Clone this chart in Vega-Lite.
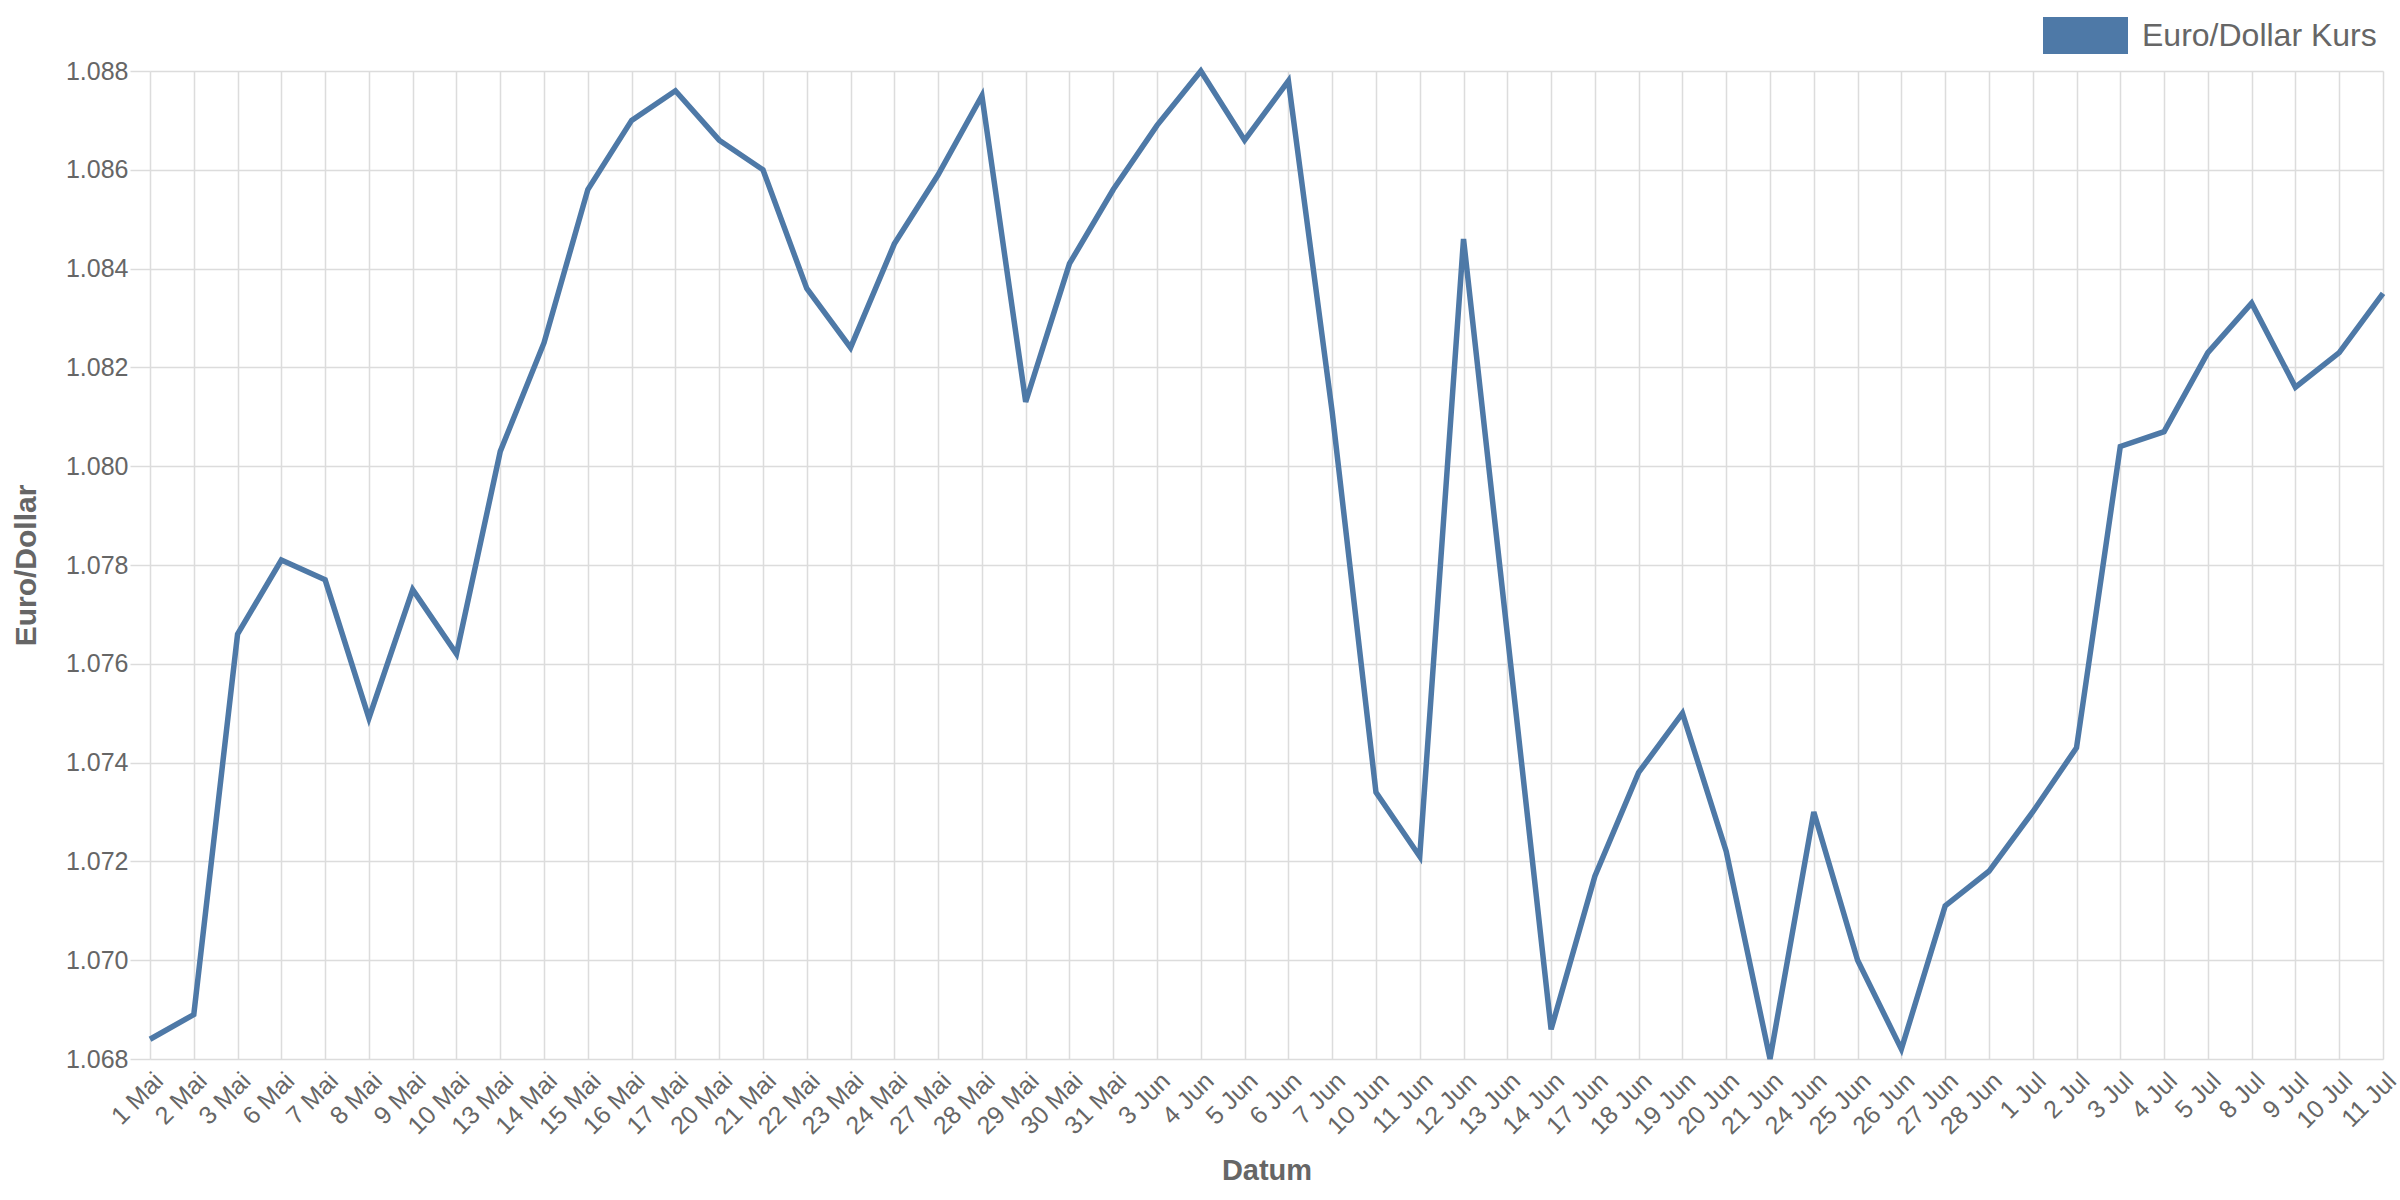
{
  "$schema": "https://vega.github.io/schema/vega-lite/v6.json",
  "width": 2233,
  "height": 988,
  "autosize": {"type": "none"},
  "padding": {"left": 150, "top": 71, "right": 17, "bottom": 141},
  "background": "white",
  "config": {
    "font": "Liberation Sans",
    "view": {"stroke": null},
    "axis": {"gridColor": "#dcdcdc", "gridWidth": 1.5, "domain": false, "labelColor": "#666666", "titleColor": "#666666"}
  },
  "data": {
    "values": [
      {"Datum": "1 Mai", "Kurs": 1.0684},
      {"Datum": "2 Mai", "Kurs": 1.0689},
      {"Datum": "3 Mai", "Kurs": 1.0766},
      {"Datum": "6 Mai", "Kurs": 1.0781},
      {"Datum": "7 Mai", "Kurs": 1.0777},
      {"Datum": "8 Mai", "Kurs": 1.0749},
      {"Datum": "9 Mai", "Kurs": 1.0775},
      {"Datum": "10 Mai", "Kurs": 1.0762},
      {"Datum": "13 Mai", "Kurs": 1.0803},
      {"Datum": "14 Mai", "Kurs": 1.0825},
      {"Datum": "15 Mai", "Kurs": 1.0856},
      {"Datum": "16 Mai", "Kurs": 1.0870},
      {"Datum": "17 Mai", "Kurs": 1.0876},
      {"Datum": "20 Mai", "Kurs": 1.0866},
      {"Datum": "21 Mai", "Kurs": 1.0860},
      {"Datum": "22 Mai", "Kurs": 1.0836},
      {"Datum": "23 Mai", "Kurs": 1.0824},
      {"Datum": "24 Mai", "Kurs": 1.0845},
      {"Datum": "27 Mai", "Kurs": 1.0859},
      {"Datum": "28 Mai", "Kurs": 1.0875},
      {"Datum": "29 Mai", "Kurs": 1.0813},
      {"Datum": "30 Mai", "Kurs": 1.0841},
      {"Datum": "31 Mai", "Kurs": 1.0856},
      {"Datum": "3 Jun", "Kurs": 1.0869},
      {"Datum": "4 Jun", "Kurs": 1.0880},
      {"Datum": "5 Jun", "Kurs": 1.0866},
      {"Datum": "6 Jun", "Kurs": 1.0878},
      {"Datum": "7 Jun", "Kurs": 1.0811},
      {"Datum": "10 Jun", "Kurs": 1.0734},
      {"Datum": "11 Jun", "Kurs": 1.0721},
      {"Datum": "12 Jun", "Kurs": 1.0846},
      {"Datum": "13 Jun", "Kurs": 1.0766},
      {"Datum": "14 Jun", "Kurs": 1.0686},
      {"Datum": "17 Jun", "Kurs": 1.0717},
      {"Datum": "18 Jun", "Kurs": 1.0738},
      {"Datum": "19 Jun", "Kurs": 1.0750},
      {"Datum": "20 Jun", "Kurs": 1.0722},
      {"Datum": "21 Jun", "Kurs": 1.0680},
      {"Datum": "24 Jun", "Kurs": 1.0730},
      {"Datum": "25 Jun", "Kurs": 1.0700},
      {"Datum": "26 Jun", "Kurs": 1.0682},
      {"Datum": "27 Jun", "Kurs": 1.0711},
      {"Datum": "28 Jun", "Kurs": 1.0718},
      {"Datum": "1 Jul", "Kurs": 1.0730},
      {"Datum": "2 Jul", "Kurs": 1.0743},
      {"Datum": "3 Jul", "Kurs": 1.0804},
      {"Datum": "4 Jul", "Kurs": 1.0807},
      {"Datum": "5 Jul", "Kurs": 1.0823},
      {"Datum": "8 Jul", "Kurs": 1.0833},
      {"Datum": "9 Jul", "Kurs": 1.0816},
      {"Datum": "10 Jul", "Kurs": 1.0823},
      {"Datum": "11 Jul", "Kurs": 1.0835}
    ]
  },
  "mark": {"type": "line", "strokeWidth": 5.5, "strokeJoin": "miter"},
  "encoding": {
    "x": {
      "field": "Datum", "type": "ordinal", "sort": null,
      "scale": {"type": "point", "padding": 0},
      "axis": {"title": "Datum", "labelAngle": -45, "labelFontSize": 25, "labelPadding": 9, "ticks": false, "titleFontSize": 29, "titleFontWeight": "bold", "titlePadding": 18, "grid": true}
    },
    "y": {
      "field": "Kurs", "type": "quantitative",
      "scale": {"domain": [1.068, 1.088], "nice": false, "zero": false},
      "axis": {"title": "Euro/Dollar", "values": [1.068, 1.070, 1.072, 1.074, 1.076, 1.078, 1.080, 1.082, 1.084, 1.086, 1.088], "format": ".3f", "labelFontSize": 25, "ticks": true, "tickSize": 20, "tickColor": "#dcdcdc", "tickWidth": 1.5, "labelPadding": 2, "titleFontSize": 30, "titleFontWeight": "bold", "titlePadding": 24}
    },
    "color": {
      "datum": "Euro/Dollar Kurs",
      "scale": {"range": ["#4e79a7"]},
      "legend": {"title": null, "orient": "none", "legendX": 1893, "legendY": -78, "symbolType": "M-1,-0.435H1V0.435H-1Z", "symbolSize": 7225, "symbolFillColor": "#4e79a7", "symbolStrokeWidth": 0, "labelFontSize": 32, "labelLimit": 0, "labelColor": "#666666", "labelOffset": 14}
    }
  }
}
